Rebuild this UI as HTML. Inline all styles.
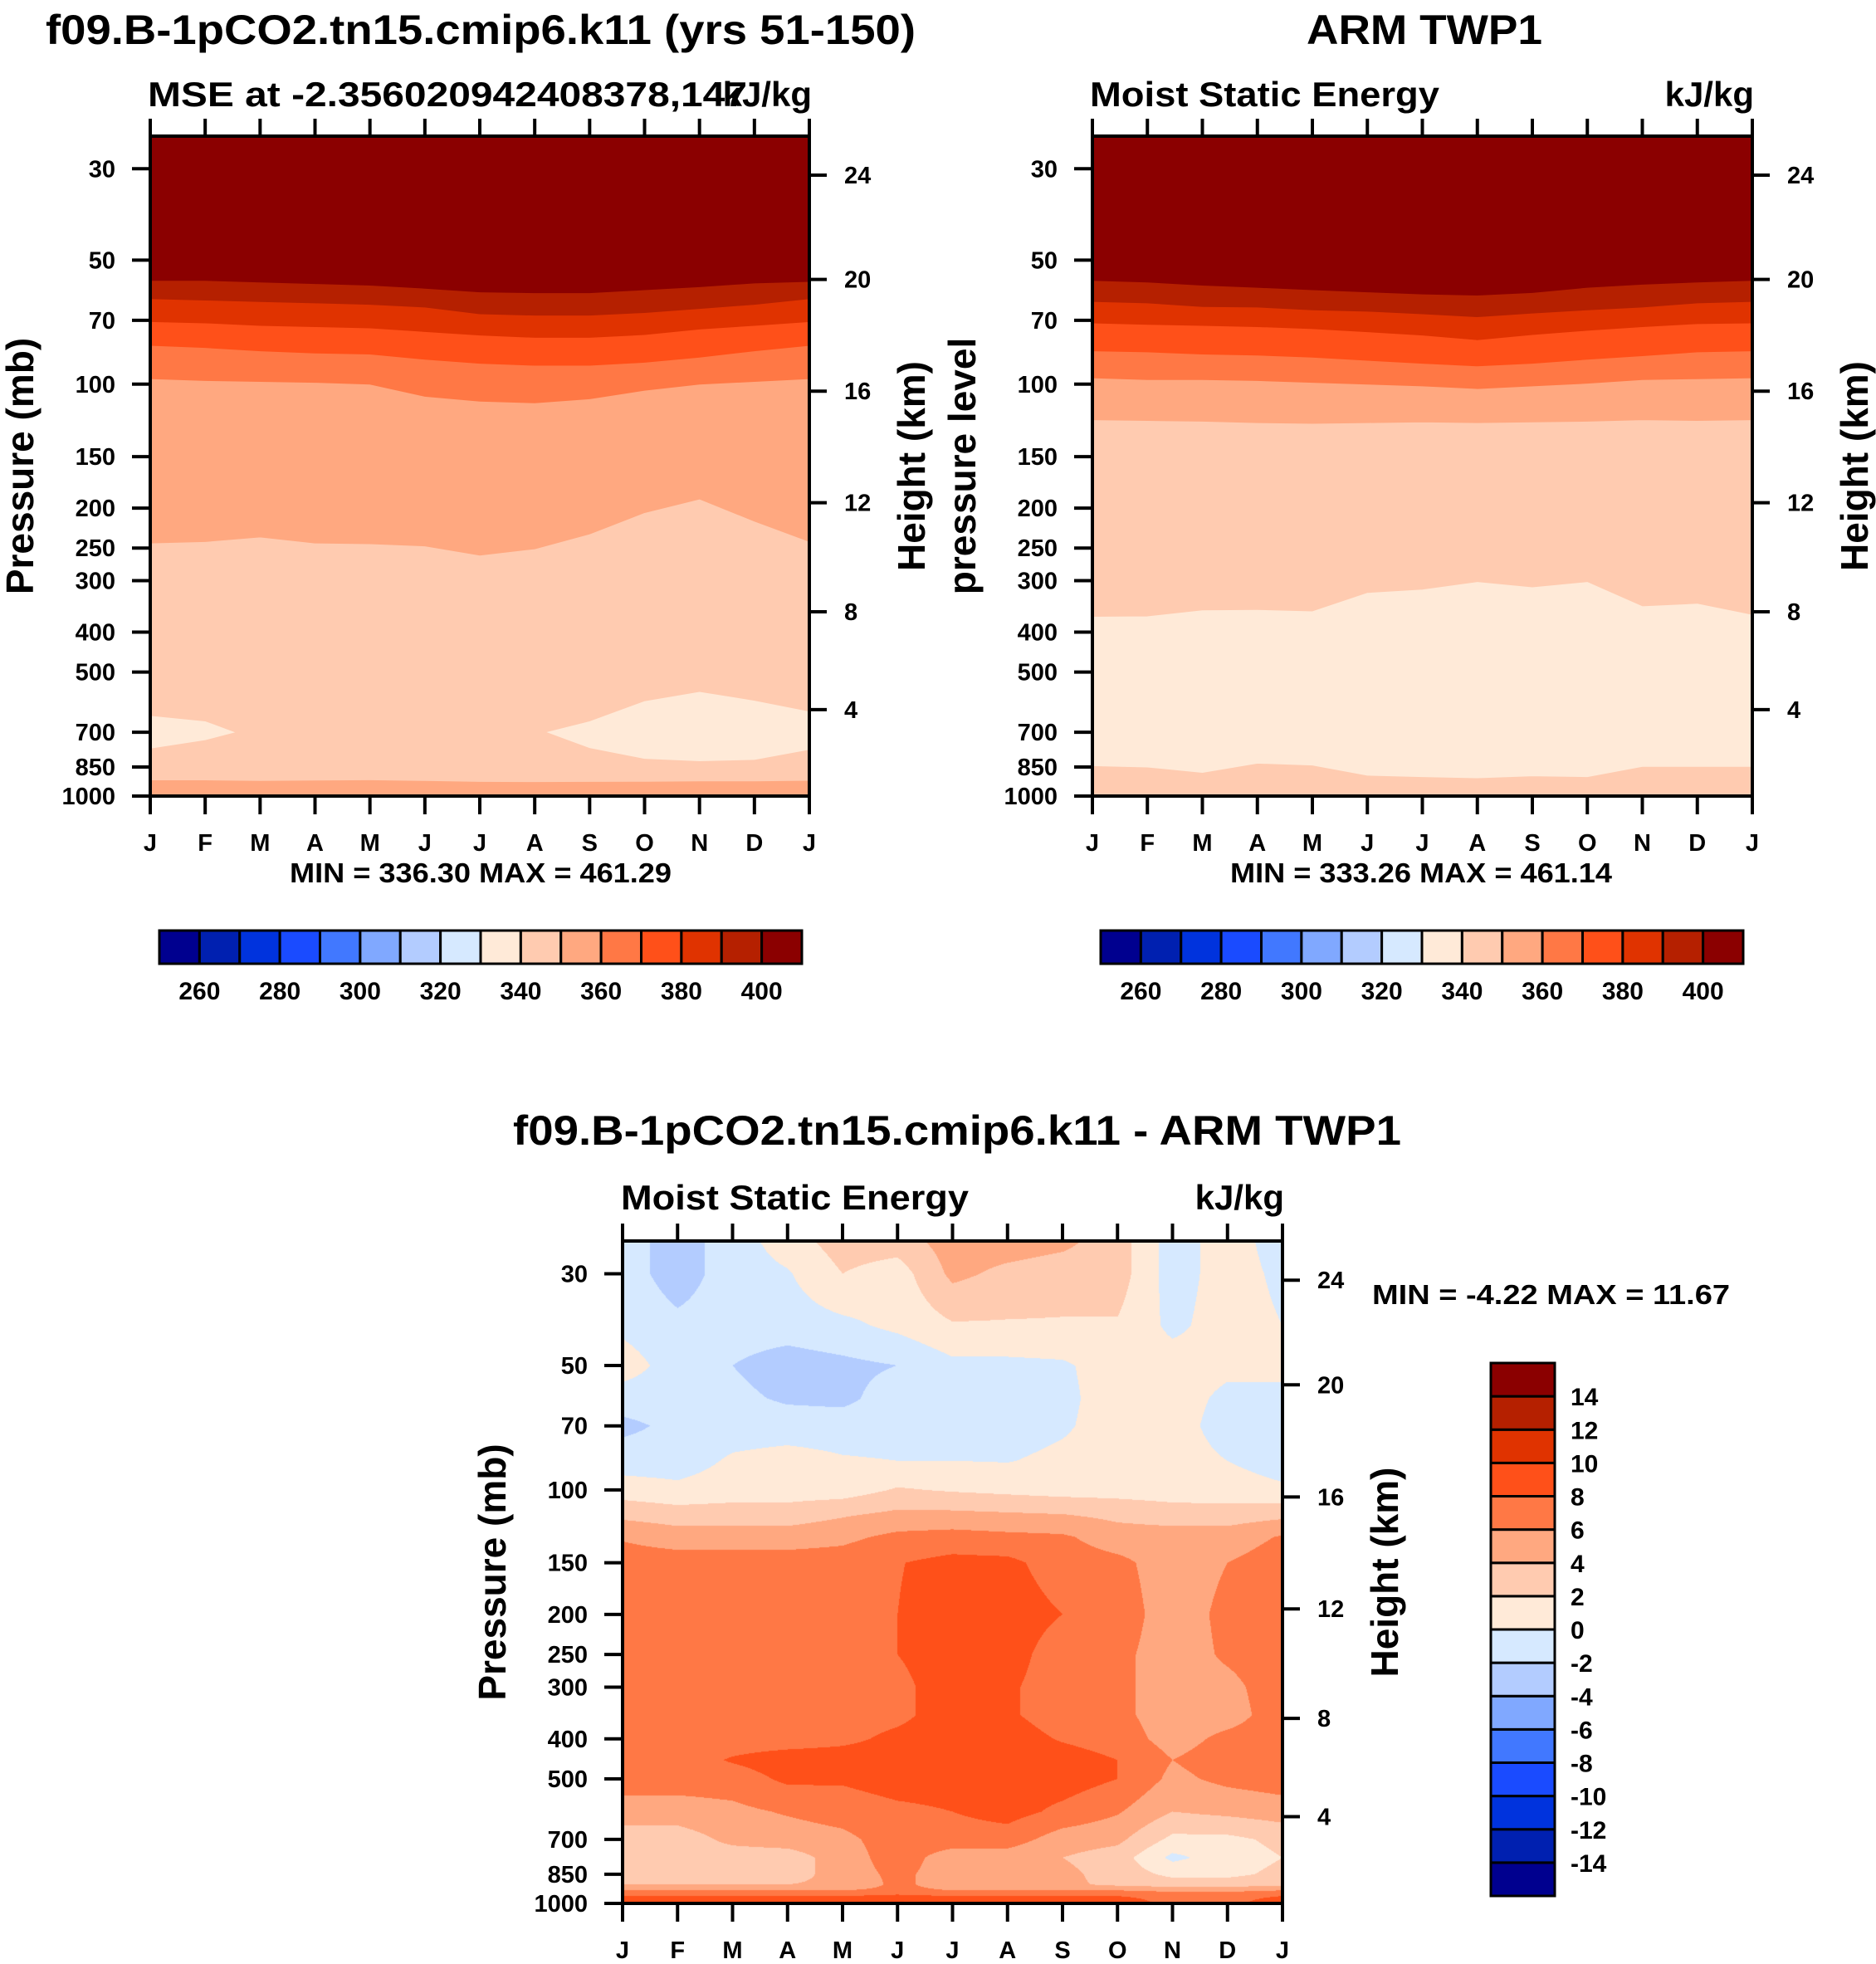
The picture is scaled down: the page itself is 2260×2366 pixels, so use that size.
<!DOCTYPE html>
<html><head><meta charset="utf-8">
<style>
html,body{margin:0;padding:0;background:#fff;}
#root{position:relative;width:2260px;height:2366px;overflow:hidden;background:#fff;}
canvas,svg{position:absolute;left:0;top:0;}
text{font-family:"Liberation Sans",Arial,sans-serif;font-weight:bold;fill:#000;}
</style></head>
<body>
<div id="root">
<canvas id="c3" width="2260" height="2366"></canvas>
<svg id="svg" width="2260" height="2366" xmlns="http://www.w3.org/2000/svg"></svg>
</div>
<script>
// ---------- data ----------
const months = ["J","F","M","A","M","J","J","A","S","O","N","D","J"];
const pressureTicks = [30,50,70,100,150,200,250,300,400,500,700,850,1000];
const heightTicks = [4,8,12,16,20,24];
const heightTickPressure = [617,357,194,104,55.7,31.1];
const cbLabelsTop = [260,280,300,320,340,360,380,400];
const cbLabelsDiff = [14,12,10,8,6,4,2,0,-2,-4,-6,-8,-10,-12,-14];
const colors = ["#00008F","#0020B0","#0033DD","#1A4BFF","#4178FF","#80A8FF","#B3CCFF","#D6E9FF","#FFEAD8","#FFCBB0","#FFA880","#FF7845","#FF5019","#E03300","#B52000","#8B0000"];

// model (plot 1) contour boundaries, pressure (mb) per month
const m_b400 = [56,56,56.5,57,57.5,58.5,59.7,60,60,59,58,56.8,56.3];
const m_b390 = [62,62.5,63,63.5,64,65,67.5,68,68,67,65.5,64,62];
const m_b380 = [70.5,71,72,72.5,73,74.5,76,77,77,75.8,73.5,72,70.5];
const m_b370 = [80.5,81.5,83,84,84.5,87,89,90,90,88.5,86,83,80.5];
const m_b360 = [97,98,98.5,99,100,107,110,111,108.5,103.5,100,98.5,97];
const m_b350 = [243,241,235,243,244,247,260,251,231,205,190,215,241];
const m_bottom350 = [918,918,921,919,917,921,926,927,926,925,923,923,920];
const m_pocketLeft = [[0,640],[1,660],[1.52,700],[1,730],[0,765]];
const m_pocketRight = [[7.24,700],[8,660],[9,590],[10,560],[11,588],[12,625],[12,770],[11,815],[10,821],[9,810],[8,763]];

// observations (plot 2)
const o_b400 = [56,56.5,57.5,58.2,59,59.7,60.4,60.8,59.9,58.2,57.2,56.5,56];
const o_b390 = [63,63.5,64.8,65,66,66.5,67.5,68.6,67.2,66,65,63.5,63];
const o_b380 = [71,71.6,72,72.5,73.3,74.6,76,78,75.8,74,72.5,71.3,71];
const o_b370 = [83,83.5,84.5,85,86,87.5,89,90.3,89,87,85.3,83.5,83];
const o_b360 = [96.5,97.5,97.5,98,99,100,101,102.5,101,99.5,97.5,97,96.5];
const o_b350 = [122,122.5,123,124,124.5,124,123.5,124,123.5,123,122,122.5,122];
const o_b340 = [368,367,355,354,357,322,316,303,312,303,347,342,364];
const o_b330 = [844,850,876,832,841,890,897,903,893,897,847,847,847];

// difference (plot 3) grid
const diffLevels = [25,30,40,50,60,70,85,100,115,130,150,200,250,300,350,400,450,500,600,700,775,850,900,930,960,1000];
const diffValues = [
[-1,-3,-1,1,3,3,5,5,4.5,3,-1,1,-1],
[-1,-3,-1,-0.2,2,1,4.5,3.5,3,3,-1,1,-0.5],
[-0.5,-1.5,-1,-1,-0.5,0.5,1.8,1.8,1.8,1.8,-0.5,1,0],
[1,-1,-2,-3,-2.5,-2,-0.5,-0.5,-0.3,1,1,0.5,0.5],
[-1,-1,-1.5,-2.3,-2.5,-1,-1,-1,-0.5,1,1,-0.5,-0.5],
[-2.5,-1.5,-1,-1,-1,-1,-1,-1,-0.3,1,1,-1,-2],
[-1,-1,0.3,0.8,0.2,0,0,-0.1,0.5,1,1,0,-0.8],
[1,0.5,1,1,1,2.2,1.8,1.5,1.2,1.2,1,0.8,0.3],
[3.5,3,3,3,3.8,4.5,4.5,4.3,4.1,3.5,3,3,3.5],
[5.8,5,5,5,5.5,6.5,6.8,6.5,6.3,5,5,5,6.2],
[7,7,7,7,7,7.9,8.6,8.5,7,6.5,5,6,7],
[7,7,7,7,7,8,9,9,8,7,5,6.5,7],
[7,7,7,7,7,8,9,8.8,7,6.5,5,6.3,7],
[7,7,7,7,7,7.5,9,8.3,7,6.5,5,5.5,7],
[7,7,7,7,7,7.5,9,8.3,7,6.5,5,5.2,7],
[7,7,7,7,7.5,8.5,9,9,7.8,7,5.2,6.5,7],
[7,7,8.2,9,9,9,9,9,9,8,6,7,7],
[7,7,7,8.4,8.3,9,9,9,9,8,5.5,6.5,7],
[5,5,5.5,6.2,6.8,7.5,8,8.8,7.5,6.2,4,4.5,5],
[3,3,4.5,5,5.5,7,7,7,5,4.5,1.5,1.5,2.5],
[3,3,3,3,5,7,5,5,4,3,-0.5,1,2],
[3,3,3,3,5,6.5,5,5,4.5,3.2,1.5,1.5,2.5],
[4,4,4,4,4.5,6.5,5,5,4.5,3.5,3,3,3.5],
[6,6,6,6,6,6.5,6,6,6,6,5.5,5.5,6],
[8,8,8,8,8,8.5,8,8,8,8,7.5,7.5,8],
[9,9,9,9,9,10.5,9,9,9,9,7.5,7.5,9]
];

// ---------- helpers ----------
const NS = "http://www.w3.org/2000/svg";
const svg = document.getElementById("svg");
const PTOP = 25;
function el(tag, attrs, parent){ const e=document.createElementNS(NS,tag); for(const k in attrs) e.setAttribute(k,attrs[k]); (parent||svg).appendChild(e); return e; }
function mkAxes(x0,x1,y0,y1){
  return {x0,x1,y0,y1,
    x:m=>x0+(x1-x0)*m/12,
    y:p=>y1-(y1-y0)*Math.log(1000/p)/Math.log(1000/PTOP)};
}
const A1 = mkAxes(181,975,164,959);
const A2 = mkAxes(1316,2111,164,959);
const A3 = mkAxes(750,1545,1495,2293);

function txt(s,x,y,size,anchor,name,extra){
  const t = el("text",Object.assign({x:x,y:y,"font-size":size,"text-anchor":anchor||"middle"},extra||{}));
  t.textContent = s;
  
  
  return t;
}
function bandFromTop(A, b, color, name){
  let d = "M"+A.x(0)+","+A.y0+" L"+A.x(12)+","+A.y0;
  for(let i=12;i>=0;i--) d += " L"+A.x(i)+","+A.y(b[i]);
  d += " Z";
  const p = el("path",{d:d,fill:color,stroke:color,"stroke-width":1});
  
  
}
function bandFromBottom(A, b, color, name){
  let d = "M"+A.x(0)+","+A.y1+" L"+A.x(12)+","+A.y1;
  for(let i=12;i>=0;i--) d += " L"+A.x(i)+","+A.y(b[i]);
  d += " Z";
  const p = el("path",{d:d,fill:color,stroke:color,"stroke-width":1});
  
  
}
function polyPts(A, pts, color, name){
  const d = "M"+pts.map(q=>A.x(q[0])+","+A.y(q[1])).join(" L")+" Z";
  const p = el("path",{d:d,fill:color,stroke:color,"stroke-width":1});
  
  
}
function frame(A, yTitle, prefix){
  const g = el("g",{});
  
  
  el("rect",{x:A.x0,y:A.y0,width:A.x1-A.x0,height:A.y1-A.y0,fill:"none",stroke:"#000","stroke-width":4},g);
  months.forEach((m,i)=>{
    const x=A.x(i);
    el("line",{x1:x,x2:x,y1:A.y0,y2:A.y0-21,stroke:"#000","stroke-width":4},g);
    el("line",{x1:x,x2:x,y1:A.y1,y2:A.y1+22,stroke:"#000","stroke-width":4},g);
    txt(m,x,A.y1+66,29,"middle",prefix+"-month-label");
  });
  pressureTicks.forEach(p=>{
    const y=A.y(p);
    el("line",{x1:A.x0,x2:A.x0-22,y1:y,y2:y,stroke:"#000","stroke-width":4},g);
    txt(String(p),A.x0-42,y+10,29,"end",prefix+"-pressure-label");
  });
  heightTicks.forEach((h,i)=>{
    const y=A.y(heightTickPressure[i]);
    el("line",{x1:A.x1,x2:A.x1+21,y1:y,y2:y,stroke:"#000","stroke-width":4},g);
    txt(String(h),A.x1+42,y+10,29,"start",prefix+"-height-label");
  });
  const cy=(A.y0+A.y1)/2;
  txt(yTitle,0,0,46,"middle",prefix+"-y-axis-title",{transform:"translate("+(A.x0-141)+","+cy+") rotate(-90)"});
  txt("Height (km)",0,0,46,"middle",prefix+"-right-axis-title",{transform:"translate("+(A.x1+139)+","+cy+") rotate(-90)"});
}
function hColorbar(x0,x1,y0,y1,prefix){
  const w=(x1-x0)/16;
  colors.forEach((c,i)=>{
    const r=el("rect",{x:x0+i*w,y:y0,width:w,height:y1-y0,fill:c,stroke:"#000","stroke-width":3});
    
    
  });
  cbLabelsTop.forEach((v,i)=>{
    txt(String(v),x0+w*(1+2*i),y1+43,30,"middle",prefix+"-colorbar-label");
  });
}

// ---------- plot 1 ----------
{
  const A=A1;
  const r=el("rect",{x:A.x0,y:A.y0,width:A.x1-A.x0,height:A.y1-A.y0,fill:colors[9]});
  
  
  bandFromTop(A,m_b350,colors[10],"model-band-350");
  bandFromTop(A,m_b360,colors[11],"model-band-360");
  bandFromTop(A,m_b370,colors[12],"model-band-370");
  bandFromTop(A,m_b380,colors[13],"model-band-380");
  bandFromTop(A,m_b390,colors[14],"model-band-390");
  bandFromTop(A,m_b400,colors[15],"model-band-400");
  bandFromBottom(A,m_bottom350,colors[10],"model-surface-band");
  polyPts(A,m_pocketLeft,colors[8],"model-pocket-left");
  polyPts(A,m_pocketRight,colors[8],"model-pocket-right");
  frame(A,"Pressure (mb)","model");
  txt("f09.B-1pCO2.tn15.cmip6.k11 (yrs 51-150)",579,53,50,"middle","model-title",{textLength:1048,lengthAdjust:"spacingAndGlyphs"});
  txt("MSE at -2.356020942408378,147",178,128,42,"start","model-subtitle",{textLength:722,lengthAdjust:"spacingAndGlyphs"});
  txt("kJ/kg",978,128,42,"end","model-units");
  txt("MIN = 336.30 MAX = 461.29",579,1063,33,"middle","model-min-max",{textLength:460,lengthAdjust:"spacingAndGlyphs"});
  hColorbar(192,966,1121,1161,"model");
}
// ---------- plot 2 ----------
{
  const A=A2;
  const r=el("rect",{x:A.x0,y:A.y0,width:A.x1-A.x0,height:A.y1-A.y0,fill:colors[9]});
  
  
  bandFromTop(A,o_b350,colors[10],"obs-band-350");
  bandFromTop(A,o_b360,colors[11],"obs-band-360");
  bandFromTop(A,o_b370,colors[12],"obs-band-370");
  bandFromTop(A,o_b380,colors[13],"obs-band-380");
  bandFromTop(A,o_b390,colors[14],"obs-band-390");
  bandFromTop(A,o_b400,colors[15],"obs-band-400");
  let d="M"+A.x(0)+","+A.y(o_b340[0]);
  for(let i=1;i<=12;i++) d+=" L"+A.x(i)+","+A.y(o_b340[i]);
  for(let i=12;i>=0;i--) d+=" L"+A.x(i)+","+A.y(o_b330[i]);
  d+=" Z";
  const b=el("path",{d:d,fill:colors[8],stroke:colors[8],"stroke-width":1});
  
  
  frame(A,"pressure level","obs");
  txt("ARM TWP1",1716,53,50,"middle","obs-title",{textLength:284,lengthAdjust:"spacingAndGlyphs"});
  txt("Moist Static Energy",1313,128,42,"start","obs-subtitle",{textLength:421,lengthAdjust:"spacingAndGlyphs"});
  txt("kJ/kg",2113,128,42,"end","obs-units");
  txt("MIN = 333.26 MAX = 461.14",1712,1063,33,"middle","obs-min-max",{textLength:460,lengthAdjust:"spacingAndGlyphs"});
  hColorbar(1326,2100,1121,1161,"obs");
}
// ---------- plot 3 ----------
{
  const A=A3;
  const ctx=document.getElementById("c3").getContext("2d");
  const W=Math.round(A.x1-A.x0), H=Math.round(A.y1-A.y0);
  const img=ctx.createImageData(W,H);
  const rgb=colors.map(c=>[parseInt(c.slice(1,3),16),parseInt(c.slice(3,5),16),parseInt(c.slice(5,7),16)]);
  const lg=diffLevels.map(p=>Math.log(p));
  const L=Math.log(1000/PTOP);
  for(let j=0;j<H;j++){
    const lp=Math.log(1000)-L*(A.y1-(A.y0+j+0.5))/(A.y1-A.y0);
    let k=0; while(k<lg.length-2 && lp>lg[k+1]) k++;
    let t=(lp-lg[k])/(lg[k+1]-lg[k]); t=Math.max(0,Math.min(1,t));
    for(let i=0;i<W;i++){
      const m=(i+0.5)/W*12;
      let c=Math.min(11,Math.floor(m)); const u=m-c;
      const v=(1-t)*((1-u)*diffValues[k][c]+u*diffValues[k][c+1])+t*((1-u)*diffValues[k+1][c]+u*diffValues[k+1][c+1]);
      let idx=Math.floor((v+14)/2)+1; idx=Math.max(0,Math.min(15,idx));
      const o=(j*W+i)*4, col=rgb[idx];
      img.data[o]=col[0];img.data[o+1]=col[1];img.data[o+2]=col[2];img.data[o+3]=255;
    }
  }
  ctx.putImageData(img,Math.round(A.x0),Math.round(A.y0));
  frame(A,"Pressure (mb)","diff");
  txt("f09.B-1pCO2.tn15.cmip6.k11 - ARM TWP1",1153,1379,50,"middle","diff-title",{textLength:1070,lengthAdjust:"spacingAndGlyphs"});
  txt("Moist Static Energy",748,1457,42,"start","diff-subtitle",{textLength:419,lengthAdjust:"spacingAndGlyphs"});
  txt("kJ/kg",1547,1457,42,"end","diff-units");
  txt("MIN =  -4.22 MAX =  11.67",1653,1571,33,"start","diff-min-max",{textLength:431,lengthAdjust:"spacingAndGlyphs"});
  const y0=1642,y1=2284,h=(y1-y0)/16;
  colors.forEach((c,i)=>{
    const r=el("rect",{x:1796,y:y0+(15-i)*h,width:77,height:h,fill:c,stroke:"#000","stroke-width":3});
    
    
  });
  cbLabelsDiff.forEach((v,i)=>{
    txt(String(v),1892,y0+h*(i+1)+11,30,"start","diff-colorbar-label");
  });
}
</script>
</body></html>
